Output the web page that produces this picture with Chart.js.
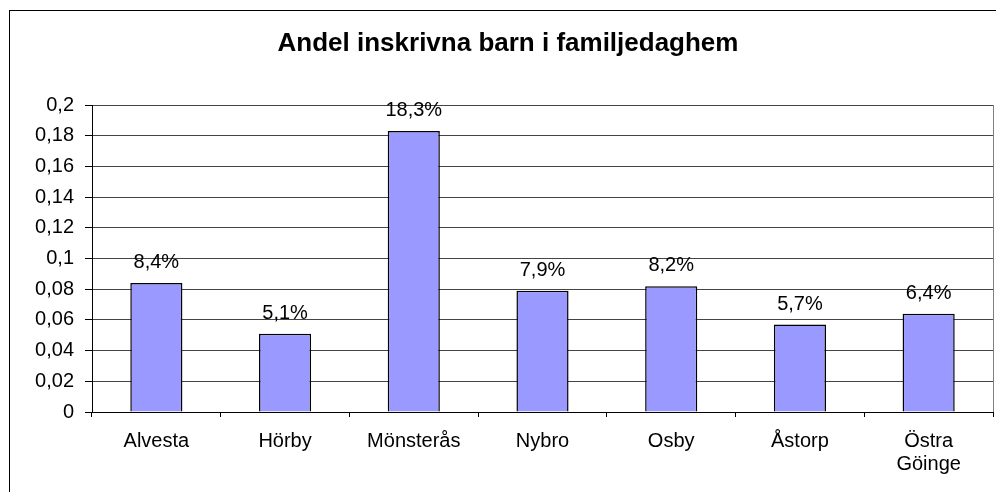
<!DOCTYPE html>
<html>
<head>
<meta charset="utf-8">
<script src="https://cdn.jsdelivr.net/npm/chart.js@4.4.0/dist/chart.umd.min.js"></script>
<style>
  body { margin: 0; background: #fff; }
  canvas { display: block; }
</style>
</head>
<body>
<canvas id="chart" width="996" height="492"></canvas>
<script>
const titleText = "Andel inskrivna barn i familjedaghem";
const kommuner = ["Alvesta", "Hörby", "Mönsterås", "Nybro", "Osby", "Åstorp", ["Östra", "Göinge"]];
const andel = [0.084, 0.051, 0.183, 0.079, 0.082, 0.057, 0.064];
const yMin = 0;
const yMax = 0.2;
const yStep = 0.02;

const fontFamily = "'Liberation Sans', Arial, sans-serif";

const comma = (v) => String(Math.round(v * 1000) / 1000).replace(".", ",");

// outer frame, plot border, title and value labels
const frame = {
  id: "frame",
  beforeDraw(chart) {
    const ctx = chart.ctx;
    ctx.save();
    ctx.fillStyle = "#fff";
    ctx.fillRect(0, 0, chart.width, chart.height);
    ctx.strokeStyle = "#000";
    ctx.lineWidth = 1;
    ctx.strokeRect(9.5, 10.5, chart.width + 20, chart.height + 20);
    ctx.restore();
  },
  afterDraw(chart) {
    const ctx = chart.ctx;
    const area = chart.chartArea;
    ctx.save();
    ctx.strokeStyle = "#808080";
    ctx.lineWidth = 1;
    ctx.beginPath();
    ctx.moveTo(Math.round(area.right) + 0.5, area.top);
    ctx.lineTo(Math.round(area.right) + 0.5, area.bottom);
    ctx.stroke();

    ctx.fillStyle = "#000";
    ctx.textAlign = "center";
    ctx.textBaseline = "alphabetic";
    ctx.font = "bold 26px " + fontFamily;
    ctx.fillText(titleText, 508, 51);

    ctx.font = "20px " + fontFamily;
    const meta = chart.getDatasetMeta(0);
    meta.data.forEach((bar, i) => {
      const label = (andel[i] * 100).toFixed(1).replace(".", ",") + "%";
      ctx.fillText(label, bar.x, bar.y - 15);
    });
    ctx.restore();
  },
};

const ctx = document.getElementById("chart").getContext("2d");

new Chart(ctx, {
  type: "bar",
  data: {
    labels: kommuner,
    datasets: [
      {
        data: andel,
        backgroundColor: "#9999FF",
        borderColor: "#000",
        borderWidth: 1.5,
        categoryPercentage: 1,
        barPercentage: 0.405,
      },
    ],
  },
  options: {
    responsive: false,
    animation: false,
    layout: { padding: { top: 105, right: 3, left: 0, bottom: 0 } },
    plugins: {
      legend: { display: false },
      title: { display: false },
      tooltip: { enabled: false },
    },
    scales: {
      x: {
        offset: true,
        grid: {
          offset: true,
          drawOnChartArea: false,
          color: "#000",
          tickLength: 5,
        },
        border: { color: "#000", width: 1 },
        ticks: {
          color: "#000",
          padding: 13,
          maxRotation: 0,
          font: { family: fontFamily, size: 20, lineHeight: 1.15 },
        },
        afterFit(scale) {
          scale.height = 80;
        },
      },
      y: {
        min: yMin,
        max: yMax,
        grid: {
          color: "#444",
          tickColor: "#000",
          tickLength: 7,
        },
        border: { color: "#000", width: 1 },
        ticks: {
          stepSize: yStep,
          color: "#000",
          padding: 11,
          font: { family: fontFamily, size: 20 },
          callback: (v) => comma(v),
        },
        afterFit(scale) {
          scale.width = 92;
        },
      },
    },
  },
  plugins: [frame],
});
</script>
</body>
</html>
